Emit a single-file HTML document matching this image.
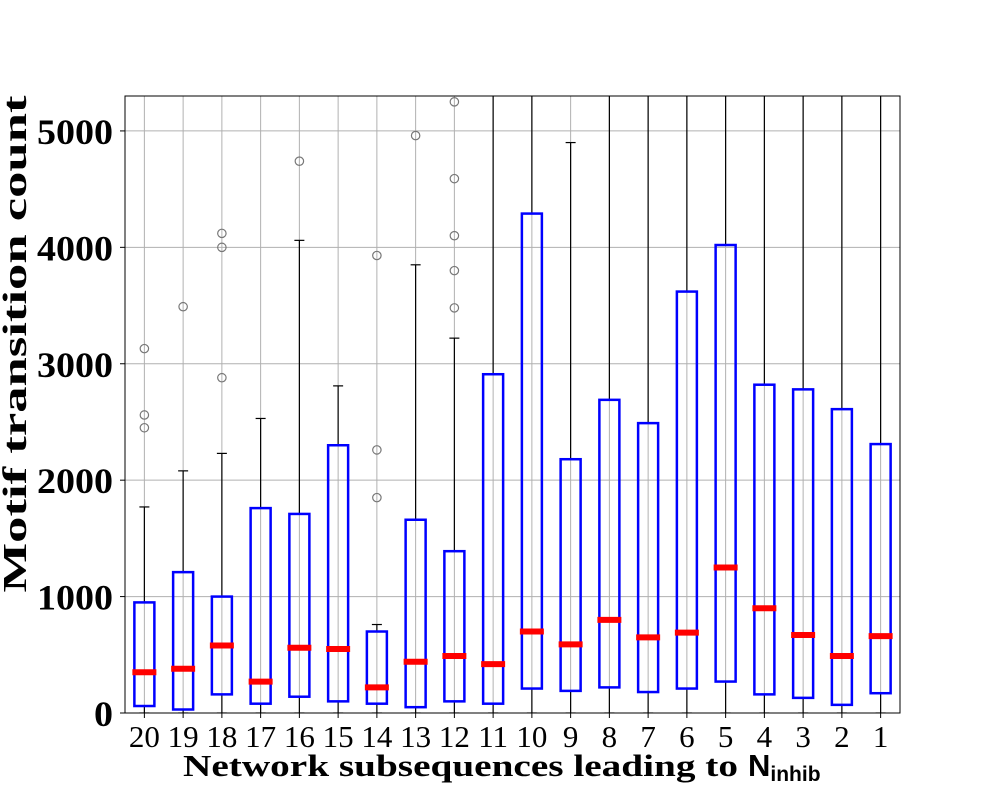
<!DOCTYPE html>
<html><head><meta charset="utf-8"><style>
body{margin:0;background:#fff}
svg text{font-family:"Liberation Serif",serif}
</style></head><body>
<svg id="chart" width="1000" height="800" xmlns="http://www.w3.org/2000/svg">
<defs><clipPath id="clip"><rect x="125" y="96" width="775" height="617"/></clipPath></defs>
<rect x="0" y="0" width="1000" height="800" fill="#fff"/>
<g id="grid"></g>
<g id="boxes" clip-path="url(#clip)"></g>
<rect x="125" y="96" width="775" height="617" fill="none" stroke="#000" stroke-width="1"/>
<g id="axes"></g>
<text x="26" y="344" transform="rotate(-90 26 344)" text-anchor="middle" font-size="34" font-weight="bold" textLength="497" lengthAdjust="spacingAndGlyphs">Motif transition count</text>
<text x="183" y="776" font-size="31" font-weight="bold"><tspan textLength="555" lengthAdjust="spacingAndGlyphs">Network subsequences leading to</tspan><tspan x="748" font-family="Liberation Sans, sans-serif">N</tspan><tspan font-family="Liberation Sans, sans-serif" font-size="21" dy="5">inhib</tspan></text>
</svg>
<script>
const categories=["20","19","18","17","16","15","14","13","12","11","10","9","8","7","6","5","4","3","2","1"];
const q1=[60,30,160,80,140,100,80,50,100,80,210,190,220,180,210,270,160,130,70,170];
const medians=[350,380,580,270,560,550,220,440,490,420,700,590,800,650,690,1250,900,670,490,660];
const q3=[950,1210,1000,1760,1710,2300,700,1660,1390,2910,4290,2180,2690,2490,3620,4020,2820,2780,2610,2310];
const whiskerLow=[0,0,0,0,0,0,0,0,0,0,0,0,0,0,0,0,0,0,0,0];
const whiskerHigh=[1770,2080,2230,2530,4060,2810,760,3850,3220,6000,6000,4900,6000,6000,6000,6000,6000,6000,6000,6000];
const outliers=[[2450,2560,3130],[3490],[2880,4000,4120],[],[4740],[],[1850,2260,3930],[4960],[3480,3800,4100,4590,5250],[],[],[],[],[],[],[],[],[],[],[]];
const yTicks=[0,1000,2000,3000,4000,5000];
const NS="http://www.w3.org/2000/svg";
const X0=125,W=775,Y0=713,H=617,YMAX=5300;
const step=W/categories.length;
function xs(i){return X0+step*(i+0.5);}
function ys(v){return Y0-v/YMAX*H;}
function mk(parent,tag,attrs){const e=document.createElementNS(NS,tag);for(const k in attrs)e.setAttribute(k,attrs[k]);parent.appendChild(e);return e;}
const grid=document.getElementById('grid'),boxes=document.getElementById('boxes'),axes=document.getElementById('axes');
yTicks.forEach(t=>{
  const l=mk(grid,'line',{x1:X0,x2:X0+W,y1:ys(t),y2:ys(t),stroke:'#b0b0b0','stroke-width':1});
  
  
  mk(axes,'line',{x1:X0-5,x2:X0,y1:ys(t),y2:ys(t),stroke:'#000'});
  const s=String(t);
  const tx=mk(axes,'text',{x:X0-12,y:ys(t)+13,'text-anchor':'end','font-size':36,'font-weight':'bold',textLength:s.length*19,lengthAdjust:'spacingAndGlyphs'});
  tx.textContent=s;
  
  
});
categories.forEach((c,i)=>{
  const x=xs(i),bw=20;
  const g=mk(grid,'line',{x1:x,x2:x,y1:96,y2:Y0,stroke:'#b0b0b0','stroke-width':1});
  
  
  const grp=mk(boxes,'g',{});
  
  
  mk(grp,'line',{x1:x,x2:x,y1:ys(q3[i]),y2:ys(whiskerHigh[i]),stroke:'#000','stroke-width':1.2});
  mk(grp,'line',{x1:x,x2:x,y1:ys(q1[i]),y2:ys(whiskerLow[i]),stroke:'#000','stroke-width':1.2});
  mk(grp,'line',{x1:x-5,x2:x+5,y1:ys(whiskerHigh[i]),y2:ys(whiskerHigh[i]),stroke:'#000','stroke-width':1.2});
  mk(grp,'line',{x1:x-5,x2:x+5,y1:ys(whiskerLow[i]),y2:ys(whiskerLow[i]),stroke:'#000','stroke-width':1.2});
  mk(grp,'rect',{x:x-bw/2,y:ys(q3[i]),width:bw,height:ys(q1[i])-ys(q3[i]),fill:'none',stroke:'#0000ff','stroke-width':2.5});
  const m=mk(grp,'line',{x1:x-12,x2:x+12,y1:ys(medians[i]),y2:ys(medians[i]),stroke:'#ff0000','stroke-width':6});
  
  
  outliers[i].forEach(v=>{
    const o=mk(grp,'circle',{cx:x,cy:ys(v),r:4.2,fill:'none',stroke:'#777','stroke-width':1.2});
    
    
  });
  mk(axes,'line',{x1:x,x2:x,y1:Y0,y2:Y0+5,stroke:'#000'});
  const t=mk(axes,'text',{x:x,y:747,'text-anchor':'middle','font-size':31});
  t.textContent=c;
  
  
});
</script>
</body></html>
